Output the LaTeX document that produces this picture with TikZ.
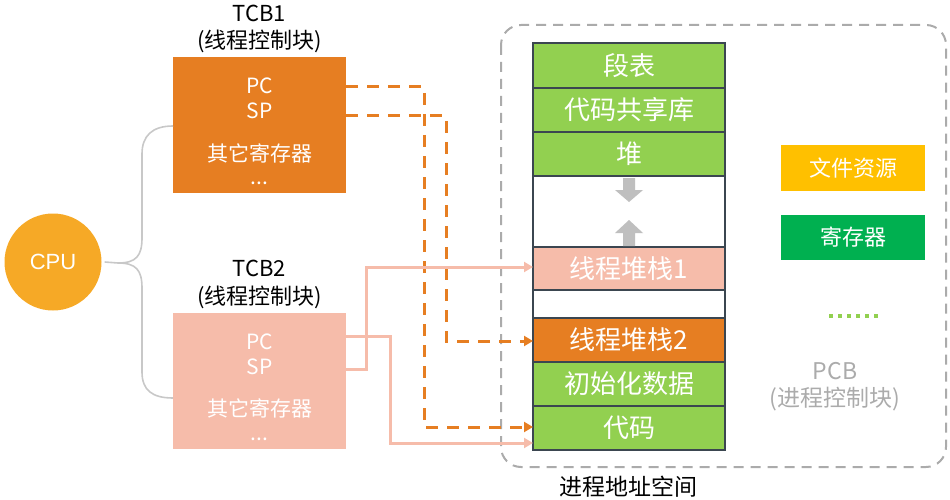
\documentclass[tikz,border=0pt]{standalone}
\usepackage{fontspec}
\setmainfont{Noto Sans CJK SC}
\newfontfamily\cpufont{Liberation Sans}
\usetikzlibrary{arrows.meta,calc}
\definecolor{cpuc}{HTML}{F6A926}
\definecolor{orangec}{HTML}{E67E22}
\definecolor{salmonc}{HTML}{F6BCAA}
\definecolor{greenc}{HTML}{92D050}
\definecolor{darkc}{HTML}{3B4650}
\definecolor{grayc}{HTML}{ABABAB}
\definecolor{lgrayc}{HTML}{BFBFBF}
\definecolor{bracec}{HTML}{C8C8C8}
\definecolor{yellowc}{HTML}{FFC000}
\definecolor{regc}{HTML}{00B050}
\begin{document}
\begin{tikzpicture}[x=1pt,y=-1pt,
  fs/.style={font=\fontsize{#1}{#1}\selectfont},
  wtxt/.style={text=white, inner sep=0pt},
  tcbbox/.style={inner sep=0pt, outer sep=0pt, minimum width=173, minimum height=136},
  stackbox/.style={draw=darkc, line width=1.5pt, inner sep=0pt, outer sep=0pt, minimum width=192, text=white, fs=26},
  pcbbox/.style={inner sep=0pt, outer sep=0pt, minimum width=144, minimum height=46, text=white, fs=22},
  odash/.style={draw=orangec, line width=3pt, dash pattern=on 12pt off 9pt, -{Triangle[length=9pt,width=10pt]}},
  sline/.style={draw=salmonc, line width=3pt, -{Triangle[length=9pt,width=10pt]}},
  bracel/.style={draw=bracec, line width=1.6pt},
]
\useasboundingbox (0,0) rectangle (950,500);

% process frame
\draw[grayc, line width=2pt, dash pattern=on 10pt off 7pt, rounded corners=20pt] (501,25) rectangle (946,467);

% stack
\node[stackbox, fill=greenc, minimum height=45] (duanbiao) at (629,65.5) {段表};
\node[stackbox, fill=greenc, minimum height=44] (gongxiang) at (629,110) {代码共享库};
\node[stackbox, fill=greenc, minimum height=44] (dui) at (629,154) {堆};
\node[stackbox, fill=white, minimum height=71] (gap1) at (629,211.5) {};
\node[stackbox, fill=salmonc, minimum height=43] (stack1) at (629,268.5) {线程堆栈1};
\node[stackbox, fill=white, minimum height=28] (gap2) at (629,304) {};
\node[stackbox, fill=orangec, minimum height=44] (stack2) at (629,340) {线程堆栈2};
\node[stackbox, fill=greenc, minimum height=44] (chushi) at (629,384) {初始化数据};
\node[stackbox, fill=greenc, minimum height=44] (daima) at (629,428) {代码};

% growth arrows
\fill[lgrayc] (623,178) -- (635,178) -- (635,190) -- (643,190) -- (629,202) -- (615,190) -- (623,190) -- cycle;
\fill[lgrayc] (623,246) -- (635,246) -- (635,233) -- (643,233) -- (629,220) -- (615,233) -- (623,233) -- cycle;

% PCB items
\node[pcbbox, fill=yellowc] (wenjian) at (853,168) {文件资源};
\node[pcbbox, fill=regc, minimum height=45] (jicunqi) at (853,237.5) {寄存器};
\draw[greenc, line width=4pt, dash pattern=on 4pt off 5pt] (829,316) -- (879,316);
\node[text=grayc, fs=23, inner sep=0pt] (pcbt) at (835,371) {PCB};
\node[text=grayc, fs=23, inner sep=0pt] (pcbs) at (835,399) {(进程控制块)};
\node[fs=23, inner sep=0pt] (space) at (628,487) {进程地址空间};

% CPU
\node[circle, fill=cpuc, minimum size=97, inner sep=0pt, text=white, font=\cpufont\fontsize{22}{22}\selectfont] (cpu) at (53,262) {CPU};

% TCB1
\node[fs=22, inner sep=0pt] (tcb1t) at (259.5,13) {TCB1};
\node[fs=22, inner sep=0pt] (tcb1s) at (259.5,41) {(线程控制块)};
\node[tcbbox, fill=orangec] (tcb1) at (259.5,125) {};
\node[wtxt, fs=21] (pc1) at (259.5,86) {PC};
\node[wtxt, fs=21] (sp1) at (259.5,111) {SP};
\node[wtxt, fs=21] (oth1) at (259.5,153) {其它寄存器};
\node[wtxt, fs=21] (dots1) at (259.5,183) {...};

% TCB2
\node[fs=22, inner sep=0pt] (tcb2t) at (259.5,268.5) {TCB2};
\node[fs=22, inner sep=0pt] (tcb2s) at (259.5,297) {(线程控制块)};
\node[tcbbox, fill=salmonc] (tcb2) at (259.5,381) {};
\node[wtxt, fs=21] (pc2) at (259.5,342) {PC};
\node[wtxt, fs=21] (sp2) at (259.5,367) {SP};
\node[wtxt, fs=21] (oth2) at (259.5,408) {其它寄存器};
\node[wtxt, fs=21] (dots2) at (259.5,439) {...};

% brace
\draw[bracel] ([xshift=3pt]cpu.east) -- (118,263) .. controls (136,263) and (142,256) .. (142,238) -- (142,154) .. controls (142,136) and (152,126) .. (tcb1.west |- 0,126);
\draw[bracel] (118,263) .. controls (136,263) and (142,270) .. (142,288) -- (142,372) .. controls (142,390) and (152,398) .. (tcb2.west |- 0,398);

% TCB1 connectors (dashed)
\draw[odash] (tcb1.east |- 0,87) -| (424,427) -- (daima.west |- 0,427);
\draw[odash] (tcb1.east |- 0,116) -| (446,341) -- (stack2.west |- 0,341);

% TCB2 connectors (solid)
\draw[sline] (tcb2.east |- 0,369) -| (366,267) -- (stack1.west |- 0,267);
\draw[sline] (tcb2.east |- 0,336) -| (390,443) -- (daima.west |- 0,443);
\end{tikzpicture}
\end{document}
